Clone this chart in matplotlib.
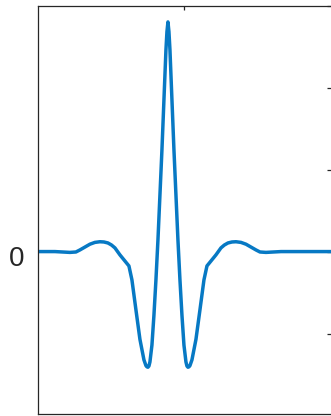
import numpy as np
import matplotlib
matplotlib.use("Agg")
import matplotlib.pyplot as plt
from matplotlib.transforms import ScaledTranslation

# ─── data ────────────────────────────────────────────────────────────────────
t_vals = [
    -3.3, -2.825, -2.45, -2.3, -2.2, -2.075, -1.95, -1.825, -1.7, -1.6,
    -1.5, -1.41, -1.325, -1.2, -1.075, -0.975, -0.9, -0.8, -0.7, -0.6,
    -0.55, -0.525, -0.5, -0.475, -0.45, -0.4, -0.35, -0.3, -0.25, -0.2,
    -0.15, -0.1, -0.05, -0.025, 0.0,
    0.025, 0.05, 0.1, 0.15, 0.2, 0.25, 0.3, 0.35, 0.4, 0.45,
    0.475, 0.5, 0.525, 0.55, 0.6, 0.7, 0.8, 0.9, 0.975, 1.075,
    1.2, 1.325, 1.41, 1.5, 1.6, 1.7, 1.825, 1.95, 2.075, 2.2,
    2.3, 2.45, 2.825, 3.3, 4.3,
]
w_vals = [
    0.0, 0.0, -0.01, -0.005, 0.02, 0.055, 0.09, 0.112, 0.12, 0.117,
    0.105, 0.08, 0.045, -0.04, -0.115, -0.175, -0.345, -0.71, -1.07, -1.32,
    -1.39, -1.405, -1.41, -1.395, -1.345, -1.14, -0.775, -0.345, 0.14, 0.69,
    1.24, 1.85, 2.46, 2.68, 2.8,
    2.68, 2.46, 1.85, 1.24, 0.69, 0.14, -0.345, -0.775, -1.14, -1.345,
    -1.395, -1.41, -1.405, -1.39, -1.32, -1.07, -0.71, -0.345, -0.175, -0.115,
    -0.04, 0.045, 0.08, 0.105, 0.117, 0.12, 0.112, 0.09, 0.055, 0.02,
    -0.005, -0.01, 0.0, 0.0, 0.0,
]
y_ticks = [-1, 0, 1, 2, 3]
y_tick_labels = ["", "0", "", "", ""]
x_ticks = [0.4]

# ─── figure ──────────────────────────────────────────────────────────────────
W, H = 331, 416
fig = plt.figure(figsize=(W / 100, H / 100), dpi=100)
ax = fig.add_axes([37.5 / W, (H - 413.5) / H, (333 - 37.5) / W, (413.5 - 5.5) / H])

ax.plot(t_vals, w_vals, color="#0779C4", lw=2.5, solid_joinstyle="round")

ax.set_xlim(-3.26, 4.125)
ax.set_ylim(-1.974, 3.0)

axis_col = "#262626"
for s in ax.spines.values():
    s.set_color(axis_col)
    s.set_linewidth(0.9)

ax.set_yticks(y_ticks)
ax.set_yticklabels(y_tick_labels, fontsize=20, family="Liberation Sans", color=axis_col)
ax.tick_params(axis="y", left=False, right=True, labelleft=True, direction="in",
               length=4.3, width=0.9, color=axis_col, pad=9.5)

ax.set_xticks(x_ticks)
ax.tick_params(axis="x", bottom=False, top=True, labelbottom=False, direction="in",
               length=3, width=0.9, color=axis_col)

# MATLAB-like label sits a little low
off = ScaledTranslation(0, -4 / 100, fig.dpi_scale_trans)
for lab in ax.get_yticklabels():
    lab.set_transform(lab.get_transform() + off)

fig.savefig("out.png", dpi=100)
